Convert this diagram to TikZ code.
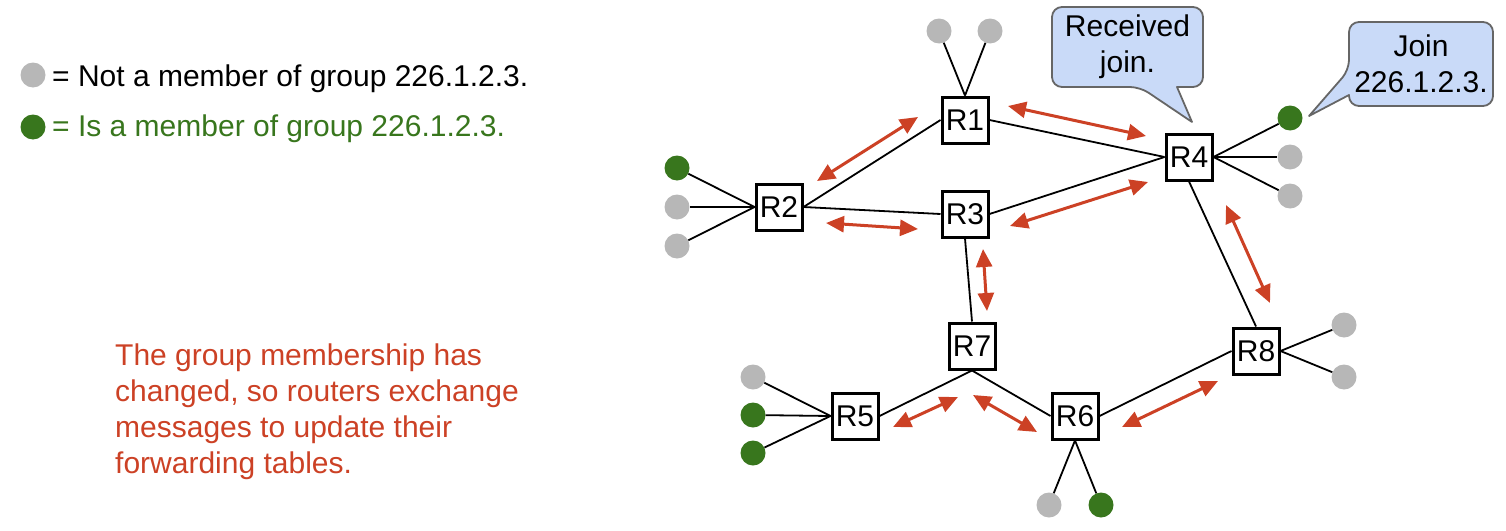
\documentclass[tikz,border=0pt]{standalone}
\usepackage{fontspec}
\setmainfont{Liberation Sans}
\usetikzlibrary{arrows.meta}
\definecolor{leafgray}{HTML}{B7B7B7}
\definecolor{leafgreen}{HTML}{38761D}
\definecolor{msgred}{HTML}{CC4125}
\definecolor{callfill}{HTML}{C9DAF8}
\definecolor{callborder}{HTML}{666666}
\begin{document}
\begin{tikzpicture}[x=1pt,y=-1pt,
 every node/.style={font=\fontsize{30}{36}\selectfont},
 router/.style={draw, line width=3pt, minimum size=46pt, inner sep=0pt, fill=white},
 memb/.style={circle, fill=leafgreen, minimum size=25pt, inner sep=0pt},
 nonmemb/.style={circle, fill=leafgray, minimum size=25pt, inner sep=0pt},
 link/.style={line width=1.8pt},
 msg/.style={draw=msgred, line width=3pt, {Triangle[length=18pt,width=16pt]}-{Triangle[length=18pt,width=16pt]}},
 bubble/.style={draw=callborder, fill=callfill, line width=1.8pt, line join=round},
 ]
\useasboundingbox (0,0) rectangle (1506,530);

% legend
\node[nonmemb] (lg1) at (33,75) {};
\node[anchor=base west, inner sep=0pt] (lt1) at (52,86) {= Not a member of group 226.1.2.3.};
\node[memb] (lg2) at (33,127) {};
\node[anchor=base west, inner sep=0pt, text=leafgreen] (lt2) at (52,136) {= Is a member of group 226.1.2.3.};

% note
\node[anchor=base west, inner sep=0pt, align=left, text=msgred] (note) at (115,473)
 {The group membership has\\changed, so routers exchange\\messages to update their\\forwarding tables.};

% callouts
\draw[bubble] (1140,87) -- (1192,122) -- (1177,87) [rounded corners=10pt] -- (1203,87) -- (1203,7) -- (1052,7) -- (1052,87) -- cycle;
\node[align=center, inner sep=0pt] (rj) at (1127.5,47) {Received\\join.};
\draw[bubble] (1349,70) -- (1309,116) -- (1349,95) [rounded corners=10pt] -- (1349,106) -- (1493,106) -- (1493,22) -- (1349,22) -- cycle;
\node[align=center, inner sep=0pt] (jn) at (1421,64) {Join\\226.1.2.3.};

% routers
\node[router] (R1) at (965,120) {R1};
\node[router] (R2) at (779,207) {R2};
\node[router] (R3) at (965,214) {R3};
\node[router] (R4) at (1189,157) {R4};
\node[router] (R5) at (855,416) {R5};
\node[router] (R6) at (1075,416) {R6};
\node[router] (R7) at (972,346) {R7};
\node[router] (R8) at (1256,351) {R8};

% hosts
\node[nonmemb] (h1a) at (939,31) {};
\node[nonmemb] (h1b) at (990,31) {};
\node[memb] (h2a) at (677,168) {};
\node[nonmemb] (h2b) at (677,207) {};
\node[nonmemb] (h2c) at (677,246) {};
\node[memb] (h4a) at (1290,118) {};
\node[nonmemb] (h4b) at (1290,157) {};
\node[nonmemb] (h4c) at (1290,196) {};
\node[nonmemb] (h5a) at (753,377) {};
\node[memb] (h5b) at (753,415) {};
\node[memb] (h5c) at (753,453) {};
\node[nonmemb] (h6a) at (1049,505) {};
\node[memb] (h6b) at (1101,505) {};
\node[nonmemb] (h8a) at (1344,325) {};
\node[nonmemb] (h8b) at (1344,377) {};

% router links
\draw[link] (R1.west) -- (R2.east);
\draw[link] (R2.east) -- (R3.west);
\draw[link] (R1.east) -- (R4.west);
\draw[link] (R3.east) -- (R4.west);
\draw[link] (R3.south) -- (R7.north);
\draw[link] (R7.south) -- (R5.east);
\draw[link] (R7.south) -- (R6.west);
\draw[link] (R6.east) -- (R8.west);
\draw[link] (R4.south) -- (R8.north);

% host links
\draw[link] (R1.north) -- (h1a);
\draw[link] (R1.north) -- (h1b);
\draw[link] (R2.west) -- (h2a);
\draw[link] (R2.west) -- (h2b);
\draw[link] (R2.west) -- (h2c);
\draw[link] (R4.east) -- (h4a);
\draw[link] (R4.east) -- (h4b);
\draw[link] (R4.east) -- (h4c);
\draw[link] (R5.west) -- (h5a);
\draw[link] (R5.west) -- (h5b);
\draw[link] (R5.west) -- (h5c);
\draw[link] (R6.south) -- (h6a);
\draw[link] (R6.south) -- (h6b);
\draw[link] (R8.east) -- (h8a);
\draw[link] (R8.east) -- (h8b);

% message arrows
\coordinate (m12a) at (918,117); \coordinate (m12b) at (817,181);
\coordinate (m23a) at (826,223); \coordinate (m23b) at (918,229);
\coordinate (m14a) at (1008,106); \coordinate (m14b) at (1146,136);
\coordinate (m34a) at (1010,226); \coordinate (m34b) at (1148,182);
\coordinate (m37a) at (983,249); \coordinate (m37b) at (987,311);
\coordinate (m57a) at (893,427); \coordinate (m57b) at (958,397);
\coordinate (m76a) at (973,395); \coordinate (m76b) at (1037,432);
\coordinate (m68a) at (1122,427); \coordinate (m68b) at (1218,381);
\coordinate (m48a) at (1226,205); \coordinate (m48b) at (1270,303);
\draw[msg] (m12a) -- (m12b);
\draw[msg] (m23a) -- (m23b);
\draw[msg] (m14a) -- (m14b);
\draw[msg] (m34a) -- (m34b);
\draw[msg] (m37a) -- (m37b);
\draw[msg] (m57a) -- (m57b);
\draw[msg] (m76a) -- (m76b);
\draw[msg] (m68a) -- (m68b);
\draw[msg] (m48a) -- (m48b);
\end{tikzpicture}
\end{document}
